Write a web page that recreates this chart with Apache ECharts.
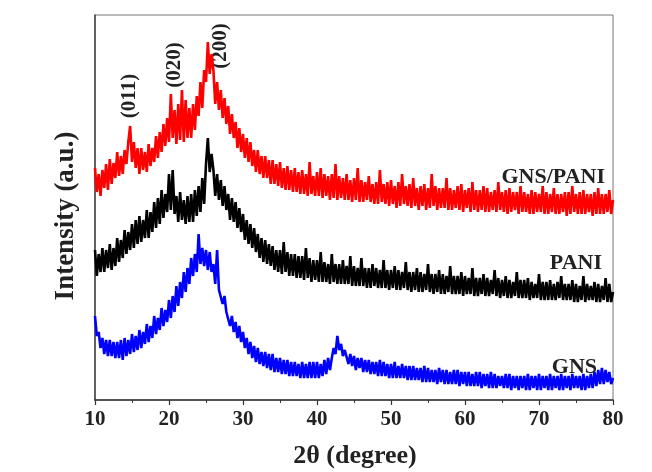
<!DOCTYPE html>
<html>
<head>
<meta charset="utf-8">
<title>XRD GNS / PANI / GNS-PANI</title>
<script src="https://cdn.jsdelivr.net/npm/echarts@6/dist/echarts.min.js"></script>
<style>
  html, body { margin: 0; padding: 0; background: #fff; }
  #chart { width: 652px; height: 472px; }
</style>
</head>
<body>
<div id="chart"></div>
<script>
// 2θ sampling of the patterns (degree)
const thetaStart = 10
const thetaStep = 0.25
const xTicks = [10, 20, 30, 40, 50, 60, 70, 80]

// intensities (a.u., offset stacked), one row = 1 degree
const gnsPani = [
  232, 208, 226, 204, 230, 212, 236, 210, 241, 216, 237, 222, 248, 224, 244, 226,
  250, 236, 258, 274, 238, 258, 232, 252, 226, 252, 230, 248, 228, 256, 234, 252,
  238, 264, 242, 268, 248, 276, 254, 282, 258, 306, 262, 290, 256, 296, 260, 310,
  258, 300, 262, 292, 262, 296, 270, 304, 284, 318, 292, 330, 318, 358, 326, 346,
  330, 296, 318, 290, 310, 282, 302, 276, 294, 266, 286, 262, 278, 252, 272, 248,
  266, 242, 262, 238, 258, 234, 250, 228, 250, 226, 244, 222, 244, 222, 240, 216,
  240, 216, 236, 214, 238, 212, 232, 210, 234, 210, 230, 208, 232, 208, 228, 206,
  230, 206, 226, 204, 238, 206, 224, 204, 228, 204, 232, 202, 226, 204, 224, 200,
  226, 202, 236, 200, 224, 202, 222, 200, 226, 200, 220, 198, 222, 200, 232, 198,
  220, 198, 218, 200, 224, 198, 216, 196, 218, 196, 230, 198, 216, 196, 218, 194,
  220, 196, 214, 192, 218, 194, 226, 196, 214, 194, 216, 192, 222, 194, 212, 190,
  214, 194, 216, 190, 212, 192, 226, 194, 214, 190, 212, 192, 212, 192, 222, 190,
  212, 190, 210, 192, 214, 190, 216, 188, 210, 192, 212, 188, 218, 190, 210, 188,
  210, 190, 214, 188, 212, 188, 208, 190, 210, 188, 218, 190, 208, 188, 210, 186,
  212, 188, 208, 190, 208, 186, 214, 188, 208, 188, 206, 186, 210, 186, 208, 188,
  206, 188, 214, 186, 208, 186, 206, 188, 212, 186, 206, 186, 206, 188, 208, 184,
  208, 186, 214, 188, 206, 186, 208, 186, 210, 186, 206, 188, 206, 184, 208, 186,
  212, 186, 206, 186, 206, 188, 210, 186,
  200
]
const pani = [
  150, 124, 146, 128, 152, 128, 150, 132, 156, 130, 152, 134, 162, 138, 160, 142,
  170, 146, 168, 150, 176, 152, 180, 156, 184, 158, 180, 162, 190, 162, 188, 168,
  198, 172, 202, 176, 210, 182, 206, 188, 226, 190, 230, 186, 204, 178, 208, 180,
  200, 176, 204, 178, 206, 178, 210, 184, 214, 188, 222, 196, 236, 262, 228, 246,
  230, 204, 226, 200, 220, 194, 214, 190, 206, 180, 202, 178, 198, 172, 192, 168,
  186, 160, 180, 156, 176, 152, 172, 148, 166, 142, 162, 138, 160, 136, 156, 134,
  154, 130, 150, 128, 150, 126, 158, 128, 148, 124, 146, 124, 146, 122, 144, 122,
  144, 120, 152, 122, 142, 118, 140, 120, 140, 118, 148, 118, 138, 118, 136, 116,
  146, 118, 136, 116, 136, 116, 140, 116, 134, 116, 144, 114, 134, 114, 132, 114,
  142, 114, 132, 112, 132, 112, 136, 114, 132, 112, 130, 112, 140, 112, 130, 110,
  130, 112, 134, 110, 130, 110, 128, 112, 138, 110, 128, 108, 128, 110, 132, 108,
  128, 108, 126, 110, 136, 108, 126, 106, 126, 108, 130, 106, 126, 106, 124, 108,
  134, 106, 124, 106, 124, 106, 128, 104, 124, 106, 122, 106, 132, 104, 122, 104,
  122, 106, 126, 104, 122, 104, 120, 106, 130, 104, 122, 102, 120, 104, 124, 102,
  120, 102, 118, 104, 128, 102, 120, 102, 120, 102, 122, 100, 118, 102, 116, 102,
  126, 100, 118, 100, 118, 100, 120, 100, 116, 100, 118, 102, 124, 100, 116, 100,
  116, 100, 120, 98, 116, 98, 114, 100, 124, 98, 116, 100, 114, 100, 118, 98,
  116, 98, 114, 100, 122, 98, 116, 98,
  108
]
const gns = [
  84, 64, 68, 52, 62, 46, 60, 44, 60, 44, 58, 42, 58, 42, 60, 40,
  62, 44, 60, 46, 66, 48, 64, 50, 70, 52, 68, 56, 76, 58, 74, 62,
  84, 66, 82, 70, 92, 74, 90, 78, 100, 82, 104, 88, 114, 94, 118, 102,
  128, 108, 132, 116, 142, 124, 146, 128, 166, 136, 152, 134, 150, 130, 148, 128,
  136, 116, 150, 110, 112, 96, 104, 88, 90, 74, 84, 68, 78, 62, 74, 58,
  68, 52, 62, 46, 58, 42, 54, 38, 52, 36, 48, 34, 48, 32, 46, 30,
  46, 28, 42, 28, 42, 26, 40, 26, 40, 24, 38, 24, 38, 24, 36, 22,
  38, 22, 36, 22, 38, 22, 38, 22, 38, 22, 36, 24, 40, 26, 42, 30,
  42, 52, 46, 64, 50, 56, 44, 50, 48, 36, 46, 34, 44, 30, 42, 32,
  42, 28, 40, 28, 40, 26, 38, 26, 38, 24, 40, 24, 38, 24, 36, 22,
  36, 22, 38, 22, 34, 22, 36, 22, 34, 20, 34, 20, 34, 20, 32, 20,
  32, 18, 34, 18, 32, 18, 30, 18, 30, 16, 32, 18, 30, 16, 30, 16,
  28, 16, 30, 16, 30, 14, 28, 16, 28, 14, 28, 14, 26, 14, 28, 14,
  28, 12, 26, 14, 26, 12, 28, 12, 26, 12, 24, 14, 24, 12, 26, 12,
  26, 10, 24, 12, 24, 10, 24, 12, 24, 10, 26, 10, 24, 12, 24, 10,
  26, 10, 24, 12, 24, 10, 26, 10, 24, 12, 24, 10, 26, 10, 24, 12,
  24, 10, 26, 12, 24, 12, 24, 10, 26, 10, 24, 12, 26, 12, 28, 14,
  30, 16, 32, 16, 30, 18, 28, 16,
  22
]

const serif = "'Liberation Serif', 'Times New Roman', serif"

function toPairs(values) {
  return values.map((v, i) => [thetaStart + i * thetaStep, v])
}

const chart = echarts.init(document.getElementById('chart'))

chart.setOption({
  animation: false,
  backgroundColor: '#fff',
  grid: {
    left: 95,
    right: 39,
    top: 15,
    bottom: 72,
    show: true,
    borderColor: '#777',
    borderWidth: 1
  },
  xAxis: {
    type: 'value',
    min: xTicks[0],
    max: xTicks[xTicks.length - 1],
    interval: 10,
    axisLine: { lineStyle: { color: '#333', width: 1.5 } },
    axisTick: { length: 5, lineStyle: { color: '#333', width: 1.2 } },
    minorTick: { show: true, splitNumber: 2, length: 3, lineStyle: { color: '#333', width: 1 } },
    axisLabel: {
      margin: 9,
      fontFamily: serif,
      fontWeight: 'bold',
      fontSize: 21,
      color: '#222'
    },
    splitLine: { show: false }
  },
  yAxis: {
    type: 'value',
    min: 0,
    max: 385,
    axisLine: { show: true, lineStyle: { color: '#444', width: 1.5 } },
    axisTick: { show: false },
    axisLabel: { show: false },
    splitLine: { show: false }
  },
  series: [
    {
      name: 'GNS/PANI',
      type: 'line',
      data: toPairs(gnsPani),
      symbol: 'none',
      lineStyle: { color: '#ff0000', width: 2.6, join: 'bevel' }
    },
    {
      name: 'PANI',
      type: 'line',
      data: toPairs(pani),
      symbol: 'none',
      lineStyle: { color: '#000000', width: 2.6, join: 'bevel' }
    },
    {
      name: 'GNS',
      type: 'line',
      data: toPairs(gns),
      symbol: 'none',
      lineStyle: { color: '#0000ff', width: 2.6, join: 'bevel' }
    }
  ],
  graphic: [
    // axis titles
    {
      type: 'text', x: 66, y: 216, rotation: Math.PI / 2,
      style: { text: 'Intensity (a.u.)', font: 'bold 27px ' + serif, fill: '#222', align: 'center', verticalAlign: 'middle' }
    },
    {
      type: 'text', x: 355, y: 456,
      style: { text: '2θ (degree)', font: 'bold 26px ' + serif, fill: '#222', align: 'center', verticalAlign: 'middle' }
    },
    // peak indices
    {
      type: 'text', x: 130, y: 96, rotation: Math.PI / 2,
      style: { text: '(011)', font: 'bold 21px ' + serif, fill: '#222', align: 'center', verticalAlign: 'middle' }
    },
    {
      type: 'text', x: 175, y: 65, rotation: Math.PI / 2,
      style: { text: '(020)', font: 'bold 21px ' + serif, fill: '#222', align: 'center', verticalAlign: 'middle' }
    },
    {
      type: 'text', x: 221, y: 46, rotation: Math.PI / 2,
      style: { text: '(200)', font: 'bold 21px ' + serif, fill: '#222', align: 'center', verticalAlign: 'middle' }
    },
    // series names
    {
      type: 'text', x: 605, y: 177,
      style: { text: 'GNS/PANI', font: 'bold 22px ' + serif, fill: '#222', align: 'right', verticalAlign: 'middle' }
    },
    {
      type: 'text', x: 602, y: 263,
      style: { text: 'PANI', font: 'bold 22px ' + serif, fill: '#222', align: 'right', verticalAlign: 'middle' }
    },
    {
      type: 'text', x: 597, y: 367,
      style: { text: 'GNS', font: 'bold 22px ' + serif, fill: '#222', align: 'right', verticalAlign: 'middle' }
    }
  ]
})
</script>
</body>
</html>
